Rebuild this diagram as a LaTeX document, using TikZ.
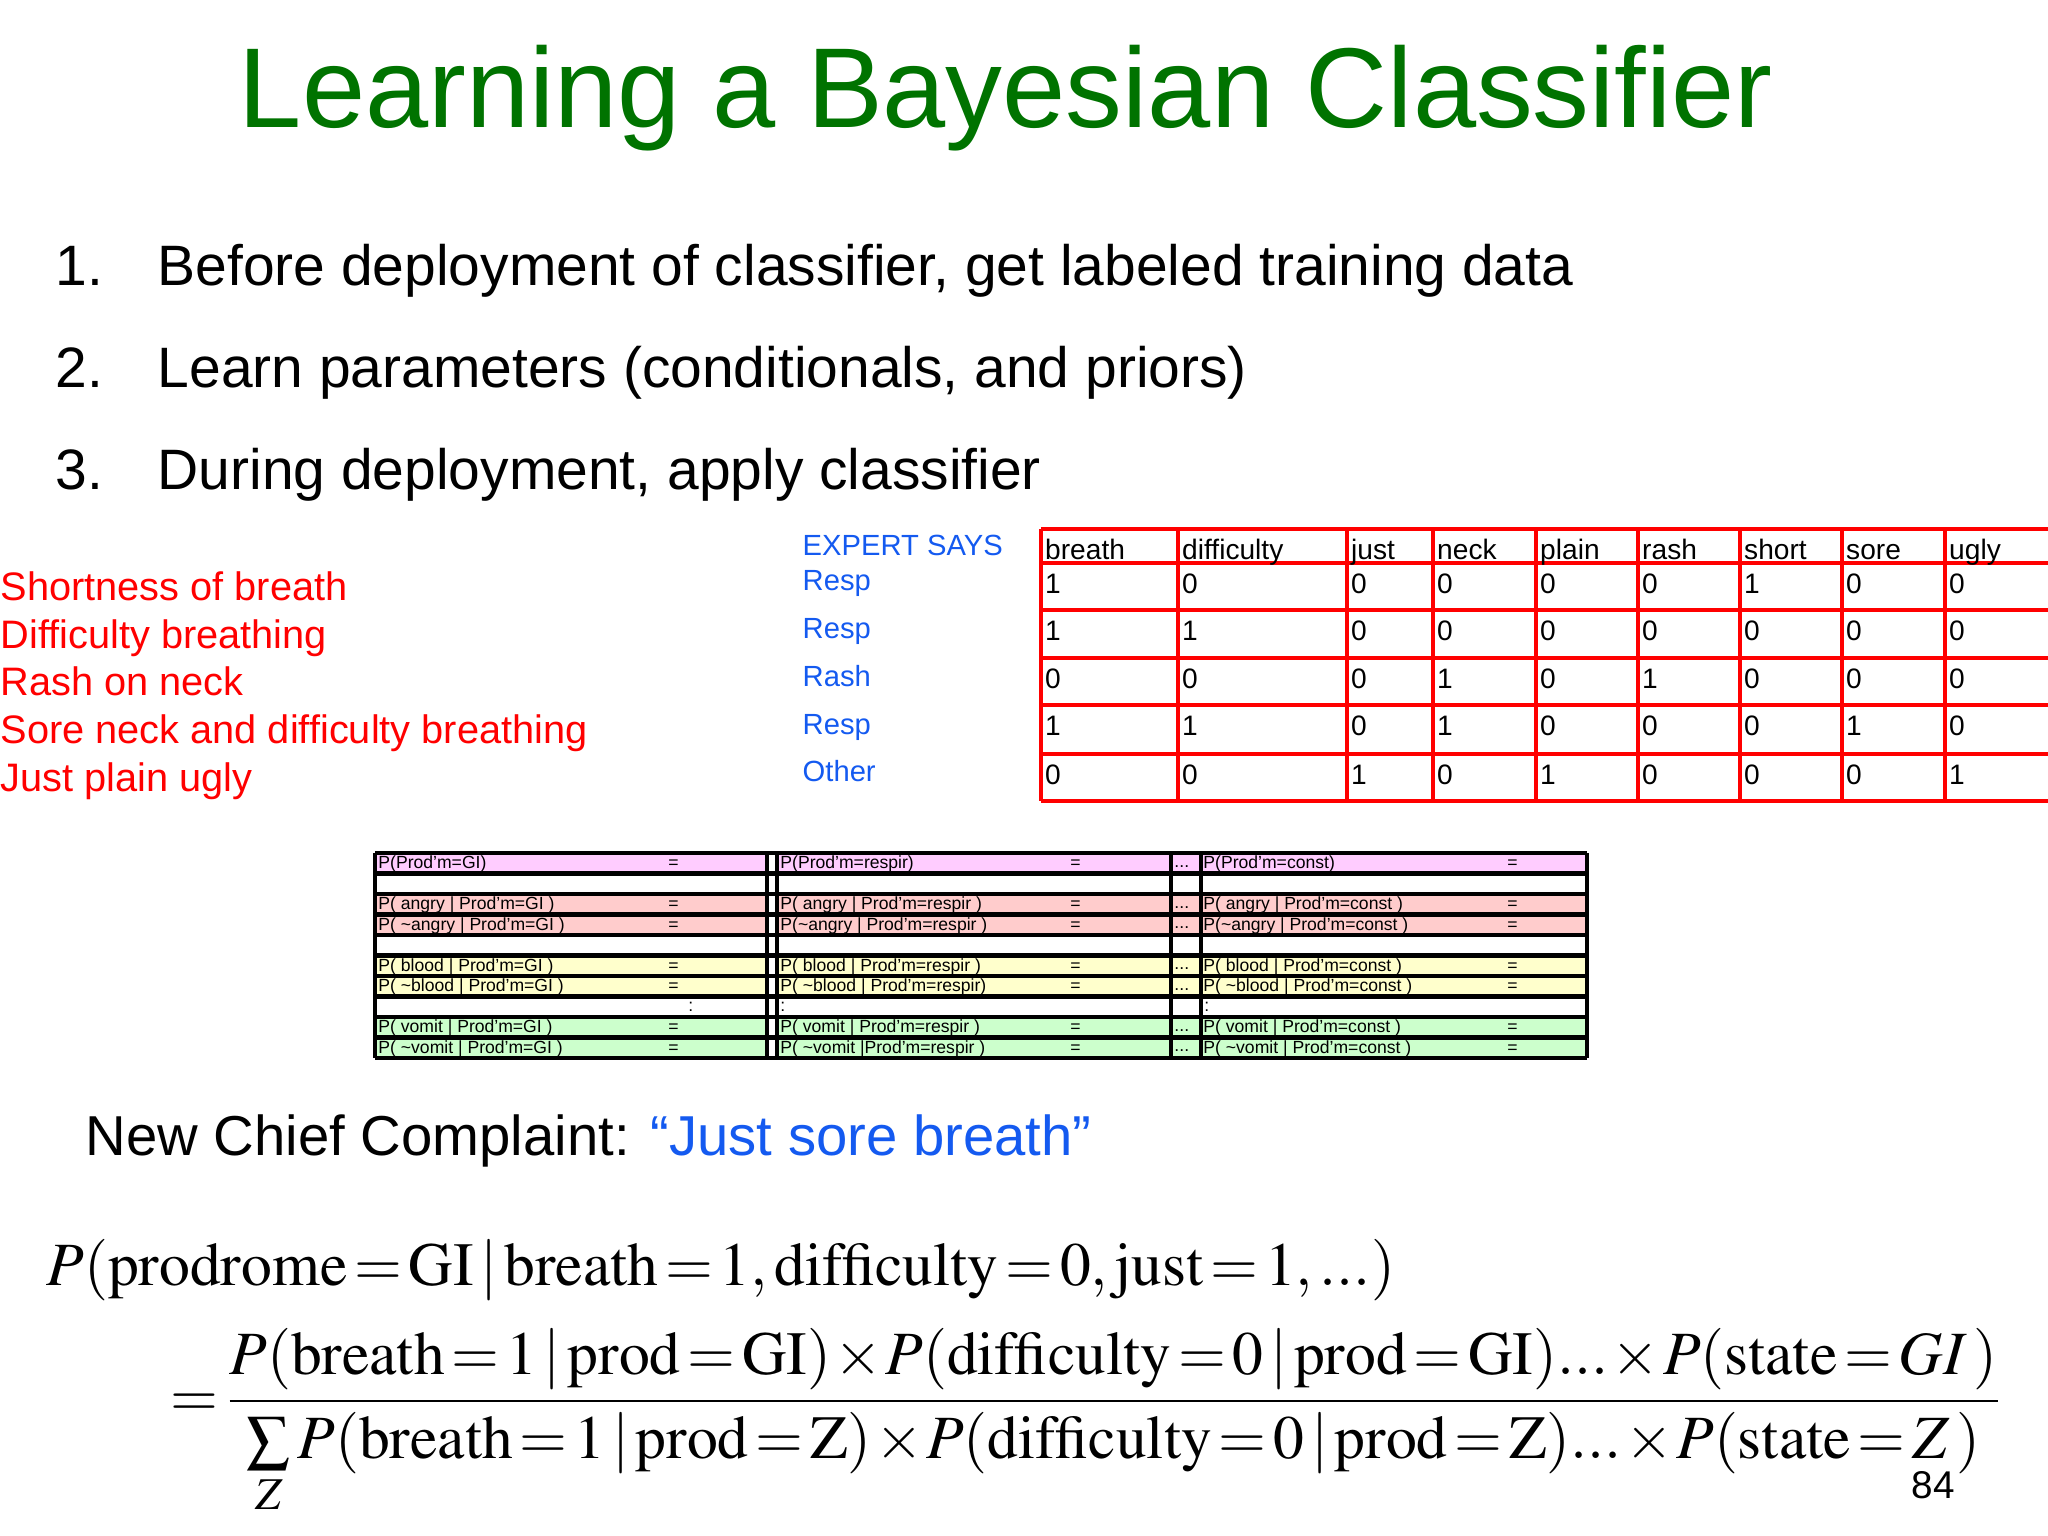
\documentclass[tikz,border=0pt]{standalone}
\usepackage{mathptmx}
\usepackage{fontspec}
\setmainfont{Liberation Sans}
\definecolor{pk}{RGB}{255,204,255}
\definecolor{sal}{RGB}{255,204,204}
\definecolor{ylw}{RGB}{255,255,204}
\definecolor{grn}{RGB}{204,255,204}
\definecolor{bl}{RGB}{20,90,240}
\begin{document}
\begin{tikzpicture}[x=0.01cm,y=-0.01cm,
  redtx/.style={font=\fontsize{11.3}{13}\selectfont,text=red,anchor=base west,inner sep=0},
  bluetx/.style={font=\fontsize{8.3}{10}\selectfont,text=bl,anchor=base west,inner sep=0},
  cell/.style={font=\fontsize{8}{10}\selectfont,anchor=north west,inner sep=1pt,text height=7pt,text depth=2pt},
  small/.style={font=\fontsize{5}{6}\selectfont,anchor=west,inner sep=0.5pt},
  listtx/.style={font=\fontsize{16.2}{19}\selectfont,anchor=base west,inner sep=0}]
\useasboundingbox (0,0) rectangle (2048,1536);
\node[font=\fontsize{32.3}{40}\selectfont,text=green!45!black] (title) at (1006,98) {Learning a Bayesian Classifier};
\node[listtx] (n1) at (55,285) {1.};
\node[listtx] (t1) at (157,285) {Before deployment of classifier, get labeled training data};
\node[listtx] (n2) at (55,387) {2.};
\node[listtx] (t2) at (157,387) {Learn parameters (conditionals, and priors)};
\node[listtx] (n3) at (55,489) {3.};
\node[listtx] (t3) at (157,489) {During deployment, apply classifier};
% red complaints
\foreach \t/\y [count=\i] in {Shortness of breath/600,Difficulty breathing/648,Rash on neck/695,Sore neck and difficulty breathing/743,Just plain ugly/791}
  \node[redtx] (c\i) at (0,\y) {\t};
\foreach \t/\y [count=\i] in {EXPERT SAYS/555,Resp/590,Resp/638,Rash/686,Resp/734,Other/781}
  \node[bluetx] (e\i) at (802,\y) {\t};
% red table
\foreach \y in {529,563,610,658,705,754,801} \draw[red,line width=1.2pt] (1041,\y) -- (2048,\y);
\foreach \x in {1041,1178,1347,1433,1536,1638,1740,1842,1945} \draw[red,line width=1.2pt] (\x,529) -- (\x,801);
\foreach \t/\x in {breath/1041,difficulty/1178,just/1347,neck/1433,plain/1536,rash/1638,short/1740,sore/1842,ugly/1945}
  \node[cell] at (\x,531) {\t};
\foreach \r/\y in {{1,0,0,0,0,0,1,0,0}/565,{1,1,0,0,0,0,0,0,0}/612,{0,0,0,1,0,1,0,0,0}/660,{1,1,0,1,0,0,0,1,0}/707,{0,0,1,0,1,0,0,0,1}/756}{
  \foreach \v [count=\k] in \r {
    \pgfmathsetmacro{\xx}{{1041,1178,1347,1433,1536,1638,1740,1842,1945}[\k-1]}
    \node[cell] at (\xx,\y) {\v};}}
% middle table
\def\rh{20.5}
\foreach \c/\i in {pk/0,white/1,sal/2,sal/3,white/4,ylw/5,ylw/6,white/7,grn/8,grn/9}{
  \fill[\c] (375,853+\i*\rh) rectangle (1587,853+\i*\rh+\rh);}
\fill[white] (767,853) rectangle (777,1058);
\foreach \i in {0,...,10} \draw[line width=1.3pt] (375,853+\i*\rh) -- (1587,853+\i*\rh);
\foreach \x in {375,767,777,1171,1201,1587} \draw[line width=1.3pt] (\x,853) -- (\x,1058);
\foreach \a/\b/\cc/\i in {P(Prod'm=GI)/P(Prod'm=respir)/P(Prod'm=const)/0,
  P( angry | Prod'm=GI )/P( angry | Prod'm=respir )/P( angry | Prod'm=const )/2,
  P( \textasciitilde angry | Prod'm=GI )/P(\textasciitilde angry | Prod'm=respir )/P(\textasciitilde angry | Prod'm=const )/3,
  P( blood | Prod'm=GI )/P( blood | Prod'm=respir )/P( blood | Prod'm=const )/5,
  P( \textasciitilde blood | Prod'm=GI )/P( \textasciitilde blood | Prod'm=respir)/P( \textasciitilde blood | Prod'm=const )/6,
  P( vomit | Prod'm=GI )/P( vomit | Prod'm=respir )/P( vomit | Prod'm=const )/8,
  P( \textasciitilde vomit | Prod'm=GI )/P( \textasciitilde vomit |Prod'm=respir )/P( \textasciitilde vomit | Prod'm=const )/9}{
  \node[small] at (376,853+\i*\rh+\rh/2+1) {\a};
  \node[small] at (666,853+\i*\rh+\rh/2+1) {=};
  \node[small] at (778,853+\i*\rh+\rh/2+1) {\b};
  \node[small] at (1068,853+\i*\rh+\rh/2+1) {=};
  \node[small] at (1201,853+\i*\rh+\rh/2+1) {\cc};
  \node[small] at (1505,853+\i*\rh+\rh/2+1) {=};
  \node[small] at (1172,853+\i*\rh+\rh/2+3) {...};}
\foreach \x in {686,778,1202} \node[small] at (\x,853+7*\rh+\rh/2) {:};
% complaint
\node[font=\fontsize{16}{20}\selectfont,anchor=base west,inner sep=0] (ncc) at (85,1155) {New Chief Complaint: \textcolor{bl}{“Just sore breath”}};
% formula
\thickmuskip=2mu plus 1mu \medmuskip=1mu
\node[anchor=base west,inner sep=0,font=\fontsize{17.5}{22}\selectfont] (f1) at (46,1285)
  {$P(\mathrm{prodrome}=\mathrm{GI}\,|\,\mathrm{breath}=1,\mathrm{difficulty}=0,\mathrm{just}=1,\mathrm{...})$};
\node[anchor=west,inner sep=0,font=\fontsize{17.5}{22}\selectfont] (f2) at (170,1422)
  {$\displaystyle =\frac{P(\mathrm{breath}=1\,|\,\mathrm{prod}=\mathrm{GI})\times P(\mathrm{difficulty}=0\,|\,\mathrm{prod}=\mathrm{GI})\mathrm{...}\times P(\mathrm{state}=\mathit{GI}\;)}{\sum\limits_{Z} P(\mathrm{breath}=1\,|\,\mathrm{prod}=\mathrm{Z})\times P(\mathrm{difficulty}=0\,|\,\mathrm{prod}=\mathrm{Z})\mathrm{...}\times P(\mathrm{state}=Z\;)}$};
\node[font=\fontsize{11}{13}\selectfont] (pg) at (1933,1485) {84};
\end{tikzpicture}
\end{document}
